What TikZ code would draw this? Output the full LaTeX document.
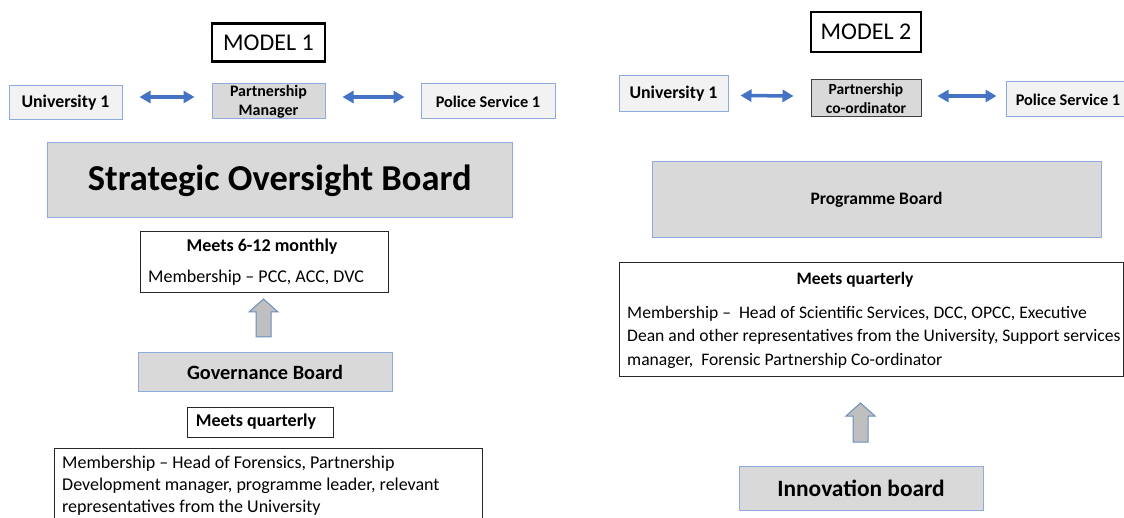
\documentclass[tikz,border=0pt]{standalone}
\usepackage{fontspec}
\setmainfont{Carlito}
\usetikzlibrary{arrows.meta}

\definecolor{linkblue}{HTML}{4472C4}
\definecolor{boxedge}{HTML}{8FAADC}
\definecolor{panelgray}{HTML}{D9D9D9}
\definecolor{lightpanel}{HTML}{F2F2F2}
\definecolor{liftfill}{HTML}{BFBFBF}
\definecolor{liftedge}{HTML}{6C8EBF}
\definecolor{darkedge}{HTML}{404040}

% upward block arrow: centre x, tip y, tail y
\newcommand{\liftarrow}[3]{%
  \path[lift] (#1,#2) -- (#1+14.5,#2+13) -- (#1+7.5,#2+13) -- (#1+7.5,#3)
    -- (#1-7.5,#3) -- (#1-7.5,#2+13) -- (#1-14.5,#2+13) -- cycle;}

\tikzset{
  orgbox/.style={draw=boxedge, line width=1pt, fill=lightpanel, inner sep=0pt,
    align=center, font=\bfseries\fontsize{17}{19}\selectfont},
  unifont/.style={font=\bfseries\fontsize{17.8}{20}\selectfont},
  policefont/.style={font=\bfseries\fontsize{16.3}{19}\selectfont},
  midbox/.style={orgbox, fill=panelgray, font=\bfseries\fontsize{16}{18.5}\selectfont},
  boardbox/.style={draw=boxedge, line width=1pt, fill=panelgray, inner sep=0pt},
  titlebox/.style={draw=black, line width=2.5pt, inner sep=0pt, font=\fontsize{24}{28}\selectfont},
  noteframe/.style={draw=black!85, line width=1pt, fill=white, inner sep=0pt},
  notetext/.style={inner sep=0pt, align=left, font=\fontsize{18}{22}\selectfont},
  notehead/.style={inner sep=0pt, font=\bfseries\fontsize{18}{20}\selectfont},
  link/.style={draw=linkblue, line width=3.5pt,
    {Triangle[length=11pt,width=12pt]}-{Triangle[length=11pt,width=12pt]}},
  lift/.style={draw=liftedge, fill=liftfill, line width=1pt, line join=miter},
}

\begin{document}
\begin{tikzpicture}[x=1pt,y=-1pt]
\useasboundingbox[fill=white] (0,0) rectangle (1124,518);

% ---------------- Model 1 ----------------
\node[titlebox, minimum width=113pt, minimum height=38pt] (title1) at (268.5,42.5) {MODEL 1};

\node[orgbox, unifont, minimum width=113pt, minimum height=34pt] (uni1) at (65.5,103) {University 1};
\node[midbox, minimum width=113pt, minimum height=35pt] (pm1) at (268.5,101.5) {Partnership\\Manager};
\node[orgbox, policefont, minimum width=134pt, minimum height=35pt] (pol1) at (488,101.5) {Police Service 1};

\draw[link] ([xshift=17pt,yshift=6pt]uni1.east) -- ([xshift=-17pt,yshift=4.5pt]pm1.west);
\draw[link] ([xshift=17pt,yshift=4.5pt]pm1.east) -- ([xshift=-16pt,yshift=4.5pt]pol1.west);

\node[boardbox, minimum width=464.5pt, minimum height=75pt,
  font=\bfseries\fontsize{36.5}{40}\selectfont] (sob) at (279.75,180.5) {Strategic Oversight Board};

\node[noteframe, minimum width=248pt, minimum height=61pt] (meet1) at (264,262.5) {};
\node[notehead] (meet1h) at (262,247) {Meets 6-12 monthly};
\node[notetext, anchor=west] (meet1m) at (148,278) {Membership – PCC, ACC, DVC};

\liftarrow{263.5}{299}{337}

\node[boardbox, minimum width=254pt, minimum height=38pt,
  font=\bfseries\fontsize{20.3}{24}\selectfont] (gov) at (265,372) {Governance Board};

\node[noteframe, minimum width=146pt, minimum height=30pt] (mq1) at (260,422) {};
\node[notehead] (mq1h) at (256,421.5) {Meets quarterly};

\node[noteframe, minimum width=428pt, minimum height=90pt, anchor=north west] (memb1) at (54,448) {};
\node[notetext, anchor=north west] (memb1t) at (62,455.5)
  {Membership – Head of Forensics, Partnership\\
   Development manager, programme leader, relevant\\
   representatives from the University};

% ---------------- Model 2 ----------------
\node[titlebox, minimum width=110pt, minimum height=40pt] (title2) at (866,32) {MODEL 2};

\node[orgbox, unifont, minimum width=109pt, minimum height=36pt] (uni2) at (673.5,94) {University 1};
\node[midbox, draw=darkedge, font=\bfseries\fontsize{15.5}{18.5}\selectfont,
  minimum width=110pt, minimum height=37pt] (pc2) at (866,98.5) {Partnership\\co-ordinator};
\node[orgbox, policefont, minimum width=124pt, minimum height=35pt] (pol2) at (1068,99.5) {Police Service 1};

\draw[link] ([xshift=12pt,yshift=-1.5pt]uni2.east) -- ([xshift=-17pt,yshift=2.5pt]pc2.west);
\draw[link] ([xshift=16pt,yshift=2.5pt]pc2.east) -- ([xshift=-9pt,yshift=3.5pt]pol2.west);

\node[boardbox, minimum width=449pt, minimum height=76pt,
  font=\bfseries\fontsize{17.5}{20}\selectfont] (pb) at (876.5,200) {Programme Board};

\node[noteframe, minimum width=504.5pt, minimum height=113pt] (mq2) at (871.25,319.5) {};
\node[notehead, font=\bfseries\fontsize{17.5}{20}\selectfont] (mq2h) at (855,280) {Meets quarterly};
\node[notetext, anchor=north west, font=\fontsize{17.6}{23.5}\selectfont] (mq2t) at (627,306)
  {Membership –~ Head of Scientific Services, DCC, OPCC, Executive\\
   Dean and other representatives from the University, Support services\\
   manager,~ Forensic Partnership Co-ordinator};

\liftarrow{860.5}{403}{442}

\node[boardbox, minimum width=244pt, minimum height=44pt,
  font=\bfseries\fontsize{23.4}{27}\selectfont] (inno) at (861,488) {Innovation board};

\end{tikzpicture}
\end{document}
